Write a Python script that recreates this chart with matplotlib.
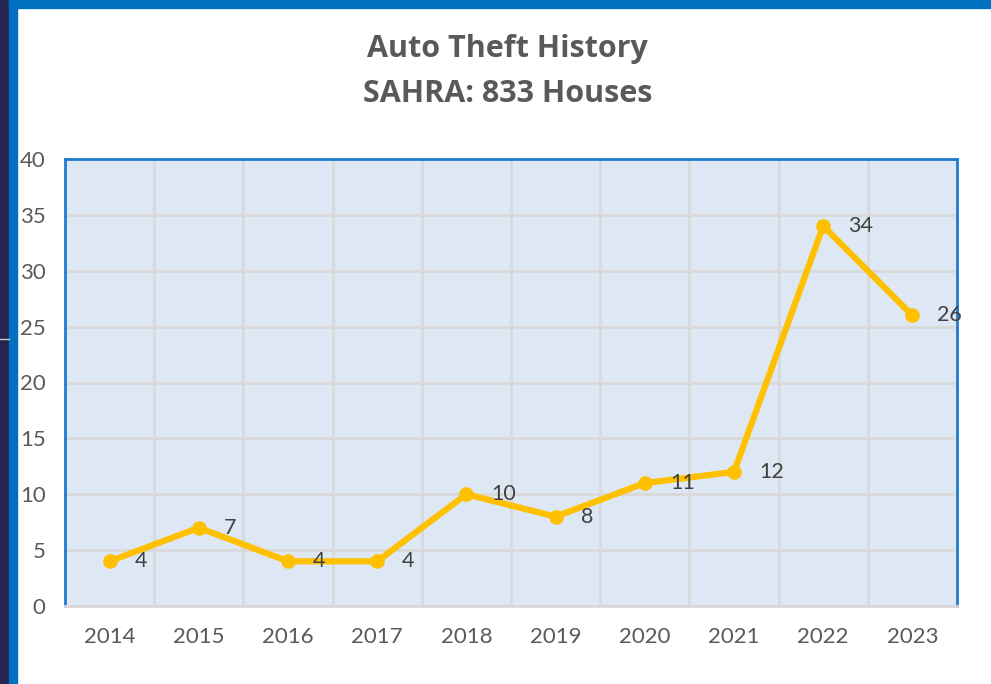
import matplotlib.pyplot as plt
from matplotlib.patches import Rectangle

years = ['2014', '2015', '2016', '2017', '2018', '2019', '2020', '2021', '2022', '2023']
thefts = [4, 7, 4, 4, 10, 8, 11, 12, 34, 26]

plt.rcParams['font.family'] = ['Lato', 'DejaVu Sans']

fig = plt.figure(figsize=(9.91, 6.84), dpi=100)
fig.patch.set_facecolor('white')

# screenshot frame: dark strip + blue border
fig.add_artist(Rectangle((0, 0), 9/991, 1, transform=fig.transFigure, color='#252550', zorder=0))
fig.add_artist(Rectangle((9/991, 0), 8/991, 1, transform=fig.transFigure, color='#0070c0', zorder=0))
fig.add_artist(Rectangle((9/991, 1 - 8/684), 1, 8/684, transform=fig.transFigure, color='#0070c0', zorder=0))
fig.add_artist(plt.Line2D([0, 9/991], [1 - 339/684] * 2, transform=fig.transFigure, color='#c8c8c8', lw=1))

ax = fig.add_axes([65/991, 1 - 606/684, (957 - 65)/991, (606 - 159)/684])
ax.set_facecolor('#dde8f4')

x = list(range(len(years)))
ax.plot(x, thefts, color='#ffc000', lw=4.5, marker='o', markersize=9.5, zorder=3,
        solid_capstyle='round', solid_joinstyle='round')
for xi, v in zip(x, thefts):
    ax.annotate(str(v), (xi, v), xytext=(18, 0), textcoords='offset points',
                va='center', ha='left', fontsize=15.5, color='#404040', zorder=4)

ax.set_xlim(-0.5, len(years) - 0.5)
ax.set_ylim(0, 40)
ax.set_yticks(range(0, 41, 5))
ax.set_xticks(x)
ax.set_xticklabels(years)
ax.set_xticks([i + 0.5 for i in x[:-1]], minor=True)
ax.grid(axis='y', color='#d9d9d9', lw=2)
ax.grid(axis='x', which='minor', color='#d9d9d9', lw=2)
ax.set_axisbelow(True)
ax.tick_params(which='both', length=0)
ax.tick_params(axis='y', labelsize=16, labelcolor='#595959', pad=14)
ax.tick_params(axis='x', labelsize=16, labelcolor='#595959', pad=15)
for s in ['top', 'left', 'right']:
    ax.spines[s].set_color('#1f7bd0')
    ax.spines[s].set_linewidth(2)
ax.spines['bottom'].set_color('#d9d9d9')
ax.spines['bottom'].set_linewidth(2)

title_font = ['Open Sans', 'DejaVu Sans']
fig.text(0.512, 1 - 49/684, 'Auto Theft History', ha='center', va='center',
         fontsize=22, fontweight='bold', color='#595959', family=title_font)
fig.text(0.512, 1 - 94/684, 'SAHRA: 833 Houses', ha='center', va='center',
         fontsize=22, fontweight='bold', color='#595959', family=title_font)

fig.savefig('out.png', dpi=100)
